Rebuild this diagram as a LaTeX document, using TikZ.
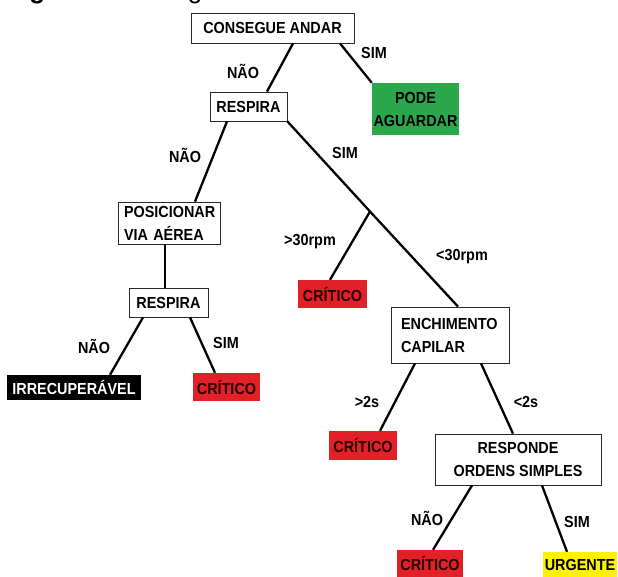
\documentclass[tikz,border=0pt]{standalone}
\usepackage{fontspec}
\setmainfont{Liberation Sans}
\newfontfamily\diagfont{Liberation Sans}[FakeStretch=0.9]
\usetikzlibrary{calc}
\definecolor{redbox}{RGB}{226,32,40}
\definecolor{greenbox}{RGB}{44,168,76}
\definecolor{yellowbox}{RGB}{255,242,0}
\definecolor{boxline}{RGB}{40,40,40}
\tikzset{
  box/.style={draw=boxline, line width=0.8pt, fill=white, inner sep=0pt},
  redleaf/.style={fill=redbox, inner sep=0pt, text=black!85!red},
  greenleaf/.style={fill=greenbox, inner sep=0pt, align=center},
  yellowleaf/.style={fill=yellowbox, inner sep=0pt},
  blackleaf/.style={fill=black, text=white, inner sep=0pt},
  conn/.style={line width=2.3pt},
  lbl/.style={inner sep=0pt}
}
\begin{document}
\begin{tikzpicture}[x=1pt,y=-1pt,font=\diagfont\bfseries\fontsize{16}{23}\selectfont]
\fill[white] (0,0) rectangle (618,577);
\useasboundingbox (0,0) rectangle (618,577);
\begin{scope}
\clip (0,0) rectangle (618,577);
\node[anchor=base west, inner sep=0pt, font=\normalfont\fontsize{26}{30}\selectfont] (cap) at (6,-1.5) {\textbf{Figura 1.} Fluxograma};
\end{scope}

% nodes
\node[box, minimum width=163pt, minimum height=30pt] (cons) at (272.5,28) {CONSEGUE ANDAR};
\node[box, minimum width=77pt, minimum height=29pt] (resp1) at (248.5,106.5) {RESPIRA};
\node[greenleaf, minimum width=87pt, minimum height=52pt] (pode) at (415.5,109) {PODE\\AGUARDAR};
\node[box, minimum width=102pt, minimum height=42pt, text width=90pt, align=left] (posi) at (169,223) {POSICIONAR\\VIA AÉREA};
\node[box, minimum width=79pt, minimum height=29pt] (resp2) at (168.5,302.5) {RESPIRA};
\node[redleaf, minimum width=69pt, minimum height=28pt] (crit1) at (332.5,294) {CRÍTICO};
\node[blackleaf, minimum width=134pt, minimum height=25pt] (irrec) at (74,387.5) {IRRECUPERÁVEL};
\node[redleaf, minimum width=67pt, minimum height=28pt] (crit4) at (226.5,387) {CRÍTICO};
\node[box, minimum width=118pt, minimum height=56pt, text width=98pt, align=left] (ench) at (450,335) {ENCHIMENTO\\CAPILAR};
\node[redleaf, minimum width=68pt, minimum height=29pt] (crit2) at (363,445.5) {CRÍTICO};
\node[box, minimum width=166pt, minimum height=51pt, align=center] (respo) at (518,459.5) {RESPONDE\\ORDENS SIMPLES};
\node[redleaf, minimum width=66pt, minimum height=27pt] (crit3) at (430,563.5) {CRÍTICO};
\node[yellowleaf, minimum width=74pt, minimum height=25pt] (urg) at (580,564.5) {URGENTE};
\coordinate (j) at (370,211.5);

% connectors
\draw[conn] ([xshift=20.5pt]cons.south) -- ([xshift=18.5pt]resp1.north);
\draw[conn] ([xshift=67.5pt]cons.south) -- (pode.north west);
\draw[conn] ([xshift=-21.5pt]resp1.south) -- ([xshift=26pt]posi.north);
\draw[conn] (resp1.south east) -- (j) -- ([xshift=8pt]ench.north);
\draw[conn] (j) -- ([xshift=-2.5pt]crit1.north);
\draw[conn] ([xshift=-4pt]posi.south) -- ([xshift=-3.5pt]resp2.north);
\draw[conn] ([xshift=-25.5pt]resp2.south) -- ([xshift=36pt]irrec.north);
\draw[conn] ([xshift=21.5pt]resp2.south) -- ([xshift=-11.5pt]crit4.north);
\draw[conn] ([xshift=-35pt]ench.south) -- ([xshift=17pt]crit2.north);
\draw[conn] ([xshift=31pt]ench.south) -- ([xshift=-5pt]respo.north);
\draw[conn] ([xshift=-46pt]respo.south) -- ([xshift=3pt]crit3.north);
\draw[conn] ([xshift=24pt]respo.south) -- ([xshift=-13pt]urg.north);

% labels
\node[lbl] (l1) at (243,71) {NÃO};
\node[lbl] (l2) at (374,53) {SIM};
\node[lbl] (l3) at (185,155) {NÃO};
\node[lbl] (l4) at (345,153) {SIM};
\node[lbl] (l5) at (310,242) {>30rpm};
\node[lbl] (l6) at (462,257) {<30rpm};
\node[lbl] (l7) at (94,346) {NÃO};
\node[lbl] (l8) at (226,343) {SIM};
\node[lbl] (l9) at (367,402) {>2s};
\node[lbl] (l10) at (526,402) {<2s};
\node[lbl] (l11) at (427,518) {NÃO};
\node[lbl] (l12) at (577,522) {SIM};
\end{tikzpicture}
\end{document}
